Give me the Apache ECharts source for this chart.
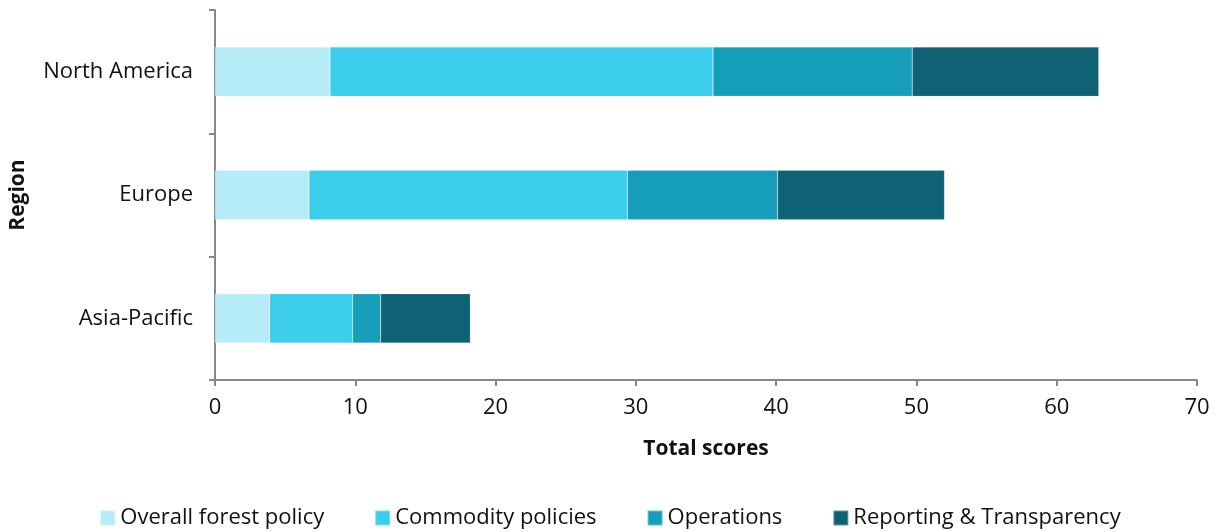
<!DOCTYPE html>
<html>
<head>
<meta charset="utf-8">
<script src="https://cdn.jsdelivr.net/npm/echarts@6/dist/echarts.min.js"></script>
<style>
  html, body { margin: 0; padding: 0; background: #ffffff; }
  #chart { width: 1220px; height: 532px; }
</style>
</head>
<body>
<div id="chart"></div>
<script>
// Regions, listed bottom to top on the category axis
const regions = ['Asia-Pacific', 'Europe', 'North America'];

// Score components per region (same order as regions)
const overallForestPolicy = [3.9, 6.7, 8.2];
const commodityPolicies = [5.9, 22.7, 27.3];
const operations = [2.0, 10.7, 14.2];
const reportingTransparency = [6.4, 11.9, 13.3];

const seriesNames = ['Overall forest policy', 'Commodity policies', 'Operations', 'Reporting & Transparency'];
const seriesColors = ['#b5ecf7', '#3ccdec', '#169dba', '#0e6273'];
const seriesData = [overallForestPolicy, commodityPolicies, operations, reportingTransparency];

const xTicks = { min: 0, max: 70, interval: 10 };

const font = '"Open Sans", Lato, sans-serif';

const chart = echarts.init(document.getElementById('chart'));
chart.setOption({
  animation: false,
  textStyle: { fontFamily: font },
  grid: { left: 215, right: 23, top: 10, bottom: 152, containLabel: false },
  xAxis: {
    type: 'value',
    min: xTicks.min, max: xTicks.max, interval: xTicks.interval,
    name: 'Total scores',
    nameLocation: 'middle',
    nameGap: 59,
    nameTextStyle: { fontSize: 21, fontWeight: 'bold', color: '#111', fontFamily: font },
    axisLine: { show: true, lineStyle: { color: '#888', width: 2 } },
    axisTick: { show: true, length: 6, lineStyle: { color: '#888', width: 2 } },
    axisLabel: { fontSize: 22, color: '#111', margin: 17, fontFamily: font },
    splitLine: { show: false }
  },
  yAxis: {
    type: 'category',
    data: regions,
    name: 'Region',
    nameLocation: 'middle',
    nameGap: 186,
    nameRotate: 90,
    nameTextStyle: { fontSize: 21, fontWeight: 'bold', color: '#111', fontFamily: font },
    axisLine: { show: true, lineStyle: { color: '#888', width: 2 } },
    axisTick: { show: true, length: 6, lineStyle: { color: '#888', width: 2 } },
    axisLabel: { fontSize: 22, color: '#111', margin: 22, fontFamily: font }
  },
  legend: {
    bottom: -2,
    left: 'center',
    itemWidth: 15,
    itemHeight: 15,
    itemGap: 50,
    icon: 'rect',
    textStyle: { fontSize: 22, color: '#111', fontFamily: font, padding: [0, 0, 0, 0] },
    data: seriesNames
  },
  series: seriesNames.map((name, i) => ({
    name: name,
    type: 'bar',
    stack: 'total',
    barCategoryGap: '60%',
    data: seriesData[i],
    itemStyle: { color: seriesColors[i], borderColor: 'rgba(255,255,255,0.35)', borderWidth: 0.5 }
  }))
});
</script>
</body>
</html>
